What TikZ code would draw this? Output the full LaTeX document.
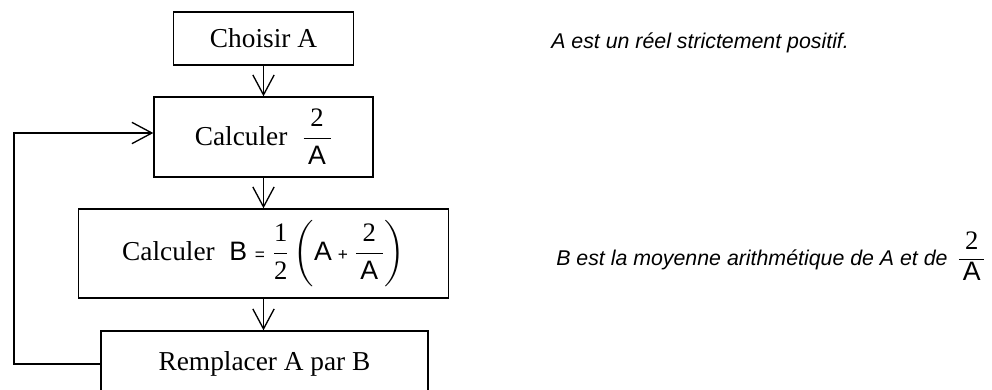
\documentclass[tikz,border=0pt]{standalone}
\usepackage{amsmath}
\usepackage{fontspec}
\setmainfont{Liberation Serif}
\newfontfamily\ar{Liberation Sans}
\newfontfamily\tm{Liberation Serif}
\usetikzlibrary{arrows.meta}
\newcommand\LA{\mbox{\fontsize{20pt}{22pt}\selectfont\ar\upshape A}}
\newcommand\LB{\mbox{\fontsize{20pt}{22pt}\selectfont\ar\upshape B}}
\newcommand\Ltwo{\mbox{\fontsize{20pt}{22pt}\selectfont\tm\upshape 2}}
\newcommand\Lone{\mbox{\fontsize{20pt}{22pt}\selectfont\tm\upshape 1}}
\newcommand\Leq{\mathrel{\mbox{\fontsize{13pt}{14pt}\selectfont\ar =}}}
\newcommand\Lplus{\mathbin{\mbox{\fontsize{13pt}{14pt}\selectfont\ar +}}}
\begin{document}
\begin{tikzpicture}[x=0.75pt,y=-0.75pt,
  boxstyle/.style={draw, line width=1pt, inner sep=0pt, align=center,
    font=\fontsize{20.5pt}{24pt}\selectfont\tm},
  arr/.style={line width=1pt, -{Straight Barb[length=15pt,width=16pt,line width=1pt]}},
  side/.style={anchor=base west, inner sep=0pt,
    font=\fontsize{16pt}{18pt}\selectfont\ar\itshape}]
\useasboundingbox (0,0) rectangle (992,389);
\clip (0,0) rectangle (992,389);
\node[boxstyle, minimum width=135pt, minimum height=39.75pt] (b1) at (263.5,38.5) {Choisir A};
\node[boxstyle, minimum width=164.25pt, minimum height=60pt] (b2) at (263.5,137)
  {Calculer $\;\dfrac{\Ltwo}{\,\LA\,}$};
\node[boxstyle, minimum width=277.5pt, minimum height=66.75pt] (b3) at (263.5,253.5)
  {Calculer $\;\LB\Leq\dfrac{\Lone}{\Ltwo}\left(\LA\Lplus\dfrac{\Ltwo}{\,\LA\,}\right)$};
\node[boxstyle, minimum width=245.25pt, minimum height=49.5pt] (b4) at (264.5,364)
  {Remplacer A par B};
\coordinate (lp) at (14,0);
\draw[arr] (b1) -- (b2);
\draw[arr] (b2) -- (b3);
\draw[arr] (b3.south) -- (b3.south |- b4.north);
\draw[arr] (b4.west) -- (b4.west -| lp) |- ([yshift=3pt]b2.west);
\node[side] (t1) at (551,48) {A est un réel strictement positif.};
\node[side] (t2) at (556,265) {B est la moyenne arithmétique de A et de
  $\,\dfrac{\Ltwo}{\,\LA\,}$};
\end{tikzpicture}
\end{document}
